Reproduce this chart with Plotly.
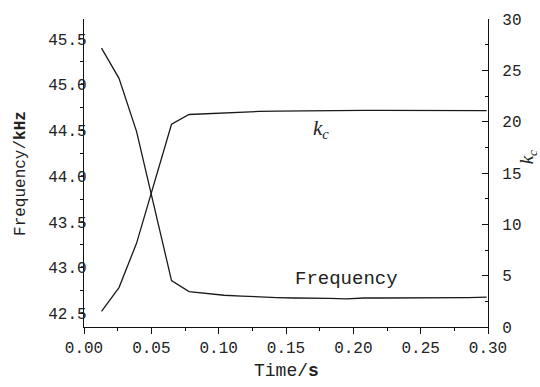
import plotly.graph_objects as go

time_s = [0.013, 0.026, 0.039, 0.052, 0.065, 0.078, 0.091, 0.104, 0.117, 0.130,
          0.143, 0.156, 0.169, 0.182, 0.195, 0.208, 0.221, 0.234, 0.247, 0.260,
          0.273, 0.286, 0.299]
freq_khz = [45.40, 45.07, 44.49, 43.68, 42.86, 42.74, 42.72, 42.70, 42.69, 42.68,
            42.675, 42.67, 42.67, 42.665, 42.66, 42.67, 42.67, 42.67, 42.67, 42.67,
            42.67, 42.675, 42.68]
kc_vals = [1.53, 3.84, 8.15, 13.95, 19.75, 20.70, 20.78, 20.85, 20.93, 21.00,
           21.02, 21.04, 21.06, 21.09, 21.15, 21.10, 21.10, 21.10, 21.10, 21.10,
           21.10, 21.10, 21.08]

x_ticks = [0.00, 0.05, 0.10, 0.15, 0.20, 0.25, 0.30]
x_ticktext = ["0.00", "0.05", "0.10", "0.15", "0.20", "0.25", "0.30"]
y_ticks = [42.5, 43.0, 43.5, 44.0, 44.5, 45.0, 45.5]
y_ticktext = ["42.5", "43.0", "43.5", "44.0", "44.5", "45.0", "45.5"]
y2_ticks = [0, 5, 10, 15, 20, 25, 30]

FONT = "Liberation Mono"
LINE = "#1a1a1a"

fig = go.Figure()
fig.add_trace(go.Scatter(x=time_s, y=freq_khz, mode="lines",
                         line=dict(color=LINE, width=1.3), yaxis="y",
                         showlegend=False))
fig.add_trace(go.Scatter(x=time_s, y=kc_vals, mode="lines",
                         line=dict(color=LINE, width=1.3), yaxis="y2",
                         showlegend=False))

fig.update_layout(
    width=540, height=387,
    margin=dict(l=84, r=52, t=14, b=60),
    paper_bgcolor="white", plot_bgcolor="white",
    font=dict(family=FONT, size=16, color="#222"),
    xaxis=dict(range=[0, 0.30], showgrid=False, zeroline=False,
               showline=True, linecolor="#111", linewidth=1.3,
               ticks="outside", ticklen=6, tickcolor="#111", tickwidth=1.2,
               tickvals=x_ticks, ticktext=x_ticktext,
               minor=dict(ticks="outside", ticklen=3, dtick=0.025, tick0=0,
                          tickcolor="#111", tickwidth=1.2),
               tickfont=dict(family=FONT, size=16)),
    yaxis=dict(range=[42.353, 45.718], showgrid=False, zeroline=False,
               showline=True, linecolor="#111", linewidth=1.3,
               ticks="outside", ticklen=4, tickcolor="#111", tickwidth=1.2,
               tickvals=y_ticks, ticktext=y_ticktext,
               ticklabelstandoff=-11,
               minor=dict(ticks="outside", ticklen=3, dtick=0.25, tick0=42.5,
                          tickcolor="#111", tickwidth=1.2),
               tickfont=dict(family=FONT, size=16)),
    yaxis2=dict(range=[0, 30], overlaying="y", side="right", anchor="x",
                showgrid=False, zeroline=False,
                showline=True, linecolor="#111", linewidth=1.3,
                ticks="inside", ticklen=6, tickcolor="#111", tickwidth=1.2,
                tickvals=y2_ticks, ticklabelstandoff=10,
                minor=dict(ticks="inside", ticklen=3, dtick=2.5, tick0=0,
                           tickcolor="#111", tickwidth=1.2),
                tickfont=dict(family=FONT, size=16)),
)

annotations = [
    dict(text="Time/<b>s</b>", xref="paper", yref="paper", x=0.5, y=-0.1438,
         xanchor="center", yanchor="middle", showarrow=False,
         font=dict(family=FONT, size=18, color="#222")),
    dict(text="Frequency/<b>kHz</b>", xref="paper", yref="paper", x=-0.156, y=0.5,
         xanchor="center", yanchor="middle", textangle=-90, showarrow=False,
         font=dict(family=FONT, size=16, color="#222")),
    dict(text="<i>k</i><sub><i>c</i></sub>", xref="paper", yref="paper",
         x=1.098, y=0.5495, xanchor="center", yanchor="middle", textangle=-90,
         showarrow=False, font=dict(family="Liberation Serif", size=19, color="#222")),
    dict(text="<i>k</i><sub><i>c</i></sub>", xref="x", yref="y2",
         x=0.176, y=19.24, xanchor="center", yanchor="middle",
         showarrow=False, font=dict(family="Liberation Serif", size=21, color="#222")),
    dict(text="Frequency", xref="x", yref="y2",
         x=0.1946, y=4.67, xanchor="center", yanchor="middle",
         showarrow=False, font=dict(family=FONT, size=19, color="#222")),
]
fig.update_layout(annotations=annotations)

fig.write_html("out.html")
